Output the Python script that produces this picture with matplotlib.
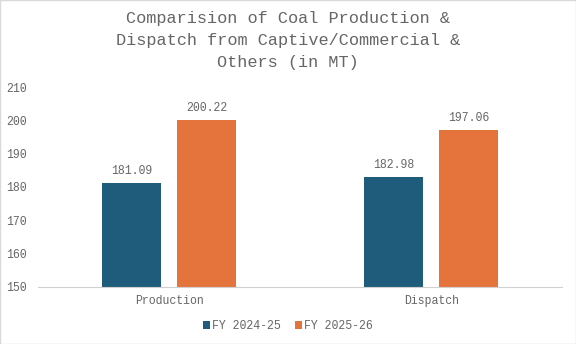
import numpy as np
import matplotlib
matplotlib.use("Agg")
import matplotlib.pyplot as plt

categories = ["Production", "Dispatch"]
series_names = ["FY 2024-25", "FY 2025-26"]
fy_2024_25 = [181.09, 182.98]
fy_2025_26 = [200.22, 197.06]
y_ticks = [150, 160, 170, 180, 190, 200, 210]

colors = ["#1f5c7b", "#e5733c"]
text_gray = "#666666"
plt.rcParams["font.family"] = ["Liberation Mono", "DejaVu Sans"]

fig = plt.figure(figsize=(5.76, 3.44), dpi=100)
ax = fig.add_axes([0.066, 0.166, 0.91, 0.581])

x = np.arange(len(categories))
width = 0.225
offset = 0.143
for vals, name, col, sgn in zip([fy_2024_25, fy_2025_26], series_names, colors, [-1, 1]):
    bars = ax.bar(x + sgn * offset, np.array(vals) - 150, width, bottom=150,
                  color=col, label=name)
    for b, v in zip(bars, vals):
        ax.text(b.get_x() + b.get_width() / 2, v + 1.8, f"{v:.2f}",
                ha="center", va="bottom", fontsize=8.3, color=text_gray)

ax.set_xlim(-0.5, 1.5)
ax.set_ylim(150, 210)
ax.set_yticks(y_ticks)
ax.set_xticks(x)
ax.set_xticklabels(categories)
ax.tick_params(axis="both", length=0, labelsize=8.3, colors=text_gray)
ax.tick_params(axis="y", pad=8)
ax.tick_params(axis="x", pad=6)
for s in ["top", "right", "left"]:
    ax.spines[s].set_visible(False)
ax.spines["bottom"].set_color("#d0d0d0")
ax.spines["bottom"].set_linewidth(0.8)

fig.suptitle("Comparision of Coal Production &\nDispatch from Captive/Commercial &\nOthers (in MT)",
             y=0.968, fontsize=12.2, color=text_gray, linespacing=1.6)

fig.legend(loc="center", bbox_to_anchor=(0.5, 0.052), ncol=2, frameon=False,
           fontsize=8.3, labelcolor=text_gray, handlelength=0.6, handleheight=0.6,
           handletextpad=0.2, columnspacing=1.2)

fig.patches.append(plt.Rectangle((0, 0), 1, 1, transform=fig.transFigure,
                                 fill=False, edgecolor="#d9d9d9", linewidth=1))

fig.savefig("out.png", dpi=100)
